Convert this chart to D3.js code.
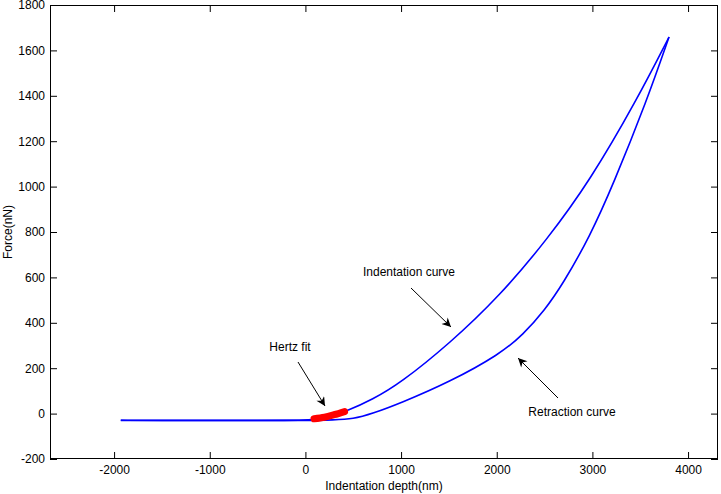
<!DOCTYPE html>
<html>
<head>
<meta charset="utf-8">
<script src="https://cdn.jsdelivr.net/npm/d3@7"></script>
<style>
  html, body { margin: 0; padding: 0; background: #fff; }
  svg { display: block; }
  text { font-family: "Liberation Sans", Arial, Helvetica, sans-serif; font-size: 12px; fill: #000; }
</style>
</head>
<body>
<svg id="chart" width="721" height="494"></svg>
<script>
// ---- Data ----
const xTicks = [-2000, -1000, 0, 1000, 2000, 3000, 4000];
const yTicks = [-200, 0, 200, 400, 600, 800, 1000, 1200, 1400, 1600, 1800];

const indentX = [-1930, -1500, -1000, -500, 0, 100, 200, 300, 432, 700, 989, 1511, 2034, 2522, 2979, 3463, 3801];
const indentY = [-29, -30, -30, -30, -30, -25, -17, -6, 11, 62, 133, 310, 520, 764, 1029, 1381, 1659];

const retractX = [-1930, -1500, -1000, -500, 0, 300, 498, 700, 989, 1511, 2034, 2275, 2500, 2693, 2975, 3215, 3571, 3801];
const retractY = [-30, -31, -30, -31, -30, -28, -24, 0, 45, 140, 262, 348, 455, 572, 782, 1007, 1381, 1659];

const hertzX = [90, 200, 300, 410];
const hertzY = [-23, -16, -5, 9];

const annotations = [
  { text: "Indentation curve", tx: 409, ty: 276, from: [411, 288], to: [451, 327] },
  { text: "Hertz fit", tx: 290, ty: 351, from: [298, 362], to: [325, 406] },
  { text: "Retraction curve", tx: 572, ty: 416, from: [558, 398], to: [518, 358] }
];

// ---- Layout ----
const svg = d3.select("#chart");
const L = 50, R = 718, T = 5, B = 459;
const x = d3.scaleLinear().domain([-2670, 4313]).range([L, R]);
const y = d3.scaleLinear().domain([-200, 1800]).range([B, T]);
const fmt = d => String(d);

// defs: arrowhead
svg.append("defs").append("marker")
  .attr("id", "arrow")
  .attr("viewBox", "0 0 10 10")
  .attr("refX", 10).attr("refY", 5)
  .attr("markerWidth", 11).attr("markerHeight", 9)
  .attr("markerUnits", "userSpaceOnUse")
  .attr("orient", "auto")
  .append("path").attr("d", "M0,0 L10,5 L0,10 L3,5 Z").attr("fill", "#000");

// Axes with inward ticks
const tickLen = 7;
const gB = svg.append("g").attr("transform", `translate(0,${B})`)
  .call(d3.axisBottom(x).tickValues(xTicks).tickSizeInner(-tickLen).tickSizeOuter(0).tickPadding(8).tickFormat(fmt));
const gT = svg.append("g").attr("transform", `translate(0,${T})`)
  .call(d3.axisTop(x).tickValues(xTicks).tickSizeInner(-tickLen).tickSizeOuter(0).tickFormat(""));
const gL = svg.append("g").attr("transform", `translate(${L},0)`)
  .call(d3.axisLeft(y).tickValues(yTicks).tickSizeInner(-tickLen).tickSizeOuter(0).tickPadding(5).tickFormat(fmt));
const gR = svg.append("g").attr("transform", `translate(${R},0)`)
  .call(d3.axisRight(y).tickValues(yTicks).tickSizeInner(-tickLen).tickSizeOuter(0).tickFormat(""));

[gB, gT, gL, gR].forEach(g => {
  g.select(".domain").remove();
  g.selectAll(".tick line").attr("stroke", "#000");
  g.selectAll("text").attr("font-size", 12).attr("font-family", null).attr("fill", "#000");
});
gB.selectAll(".tick text").attr("dy", "0.71em").attr("y", 6);

// Box
svg.append("rect").attr("x", L + 0.5).attr("y", T + 0.5)
  .attr("width", R - L - 1).attr("height", B - T - 1)
  .attr("fill", "none").attr("stroke", "#000").attr("stroke-width", 1);

// Lines
const smooth = d3.line().x(d => x(d[0])).y(d => y(d[1])).curve(d3.curveBasis);
const fitLine = d3.line().x(d => x(d[0])).y(d => y(d[1])).curve(d3.curveCatmullRom.alpha(0.5));
const zip = (a, b) => a.map((v, i) => [v, b[i]]);

svg.append("path").datum(zip(indentX, indentY))
  .attr("d", smooth).attr("fill", "none").attr("stroke", "#0000ff").attr("stroke-width", 1.6);
svg.append("path").datum(zip(retractX, retractY))
  .attr("d", smooth).attr("fill", "none").attr("stroke", "#0000ff").attr("stroke-width", 1.6);
svg.append("path").datum(zip(hertzX, hertzY))
  .attr("d", fitLine).attr("fill", "none").attr("stroke", "#ff0000").attr("stroke-width", 7)
  .attr("stroke-linecap", "round");

// Annotations
annotations.forEach(a => {
  svg.append("text").attr("x", a.tx).attr("y", a.ty).attr("text-anchor", "middle").text(a.text);
  svg.append("line")
    .attr("x1", a.from[0]).attr("y1", a.from[1]).attr("x2", a.to[0]).attr("y2", a.to[1])
    .attr("stroke", "#000").attr("stroke-width", 1).attr("marker-end", "url(#arrow)");
});

// Axis labels
svg.append("text").attr("x", (L + R) / 2).attr("y", 490).attr("text-anchor", "middle")
  .text("Indentation depth(nm)");
svg.append("text").attr("transform", `translate(12,${(T + B) / 2}) rotate(-90)`)
  .attr("text-anchor", "middle").text("Force(nN)");
</script>
</body>
</html>
